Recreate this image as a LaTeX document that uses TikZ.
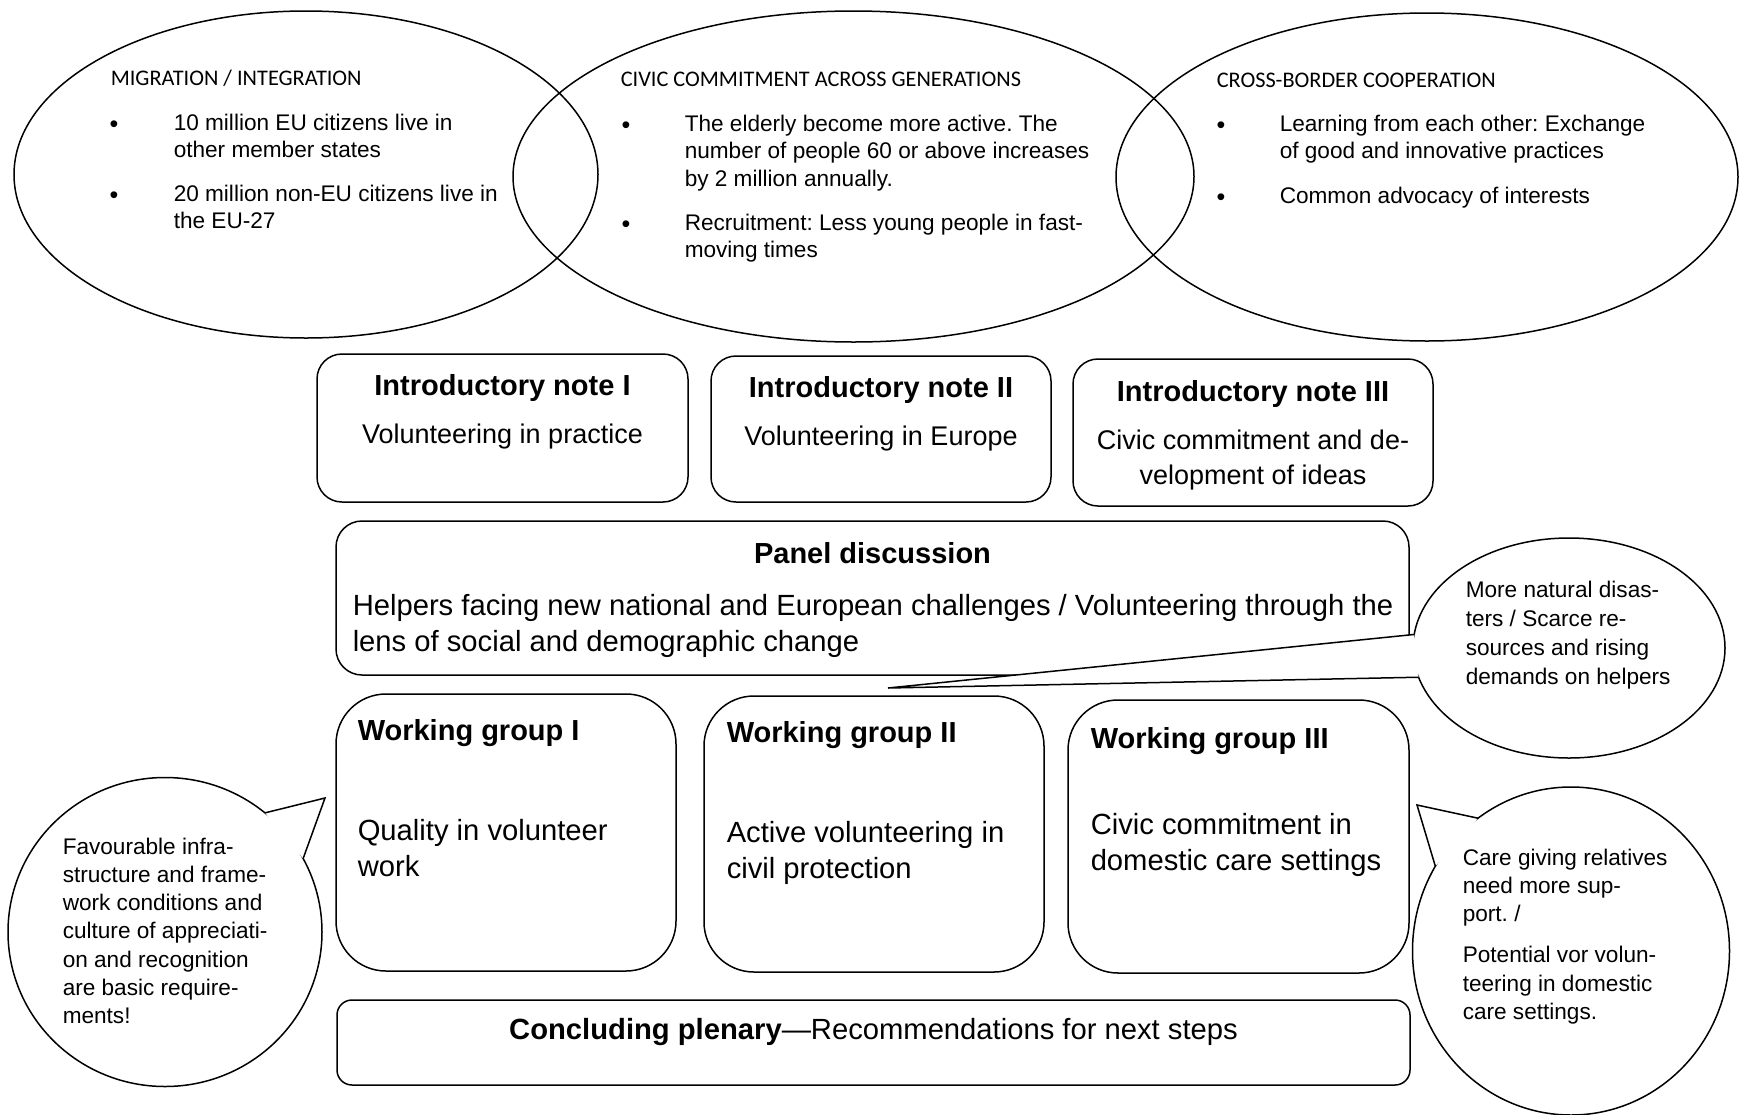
\documentclass[tikz,border=0pt]{standalone}
\usepackage{fontspec}
\setmainfont{Liberation Sans}
\newfontfamily\calfont{Carlito}
\usetikzlibrary{shapes.geometric}
\frenchspacing

\begin{document}
\begin{tikzpicture}[x=1pt, y=-1pt, line width=1.5pt,
  topic/.style={ellipse, draw, inner sep=0pt, outer sep=0pt},
  bubble/.style={ellipse, draw, fill=white, inner sep=0pt, outer sep=0pt},
  notebox/.style={draw, rounded corners=25pt, inner sep=0pt},
  groupbox/.style={draw, rounded corners=50pt, inner sep=0pt, minimum height=275pt},
  hd/.style={anchor=base west, inner sep=0pt, font=\calfont\fontsize{22.3}{26}\selectfont},
  bul/.style={anchor=base, inner sep=0pt, font=\fontsize{25}{27.7}\selectfont},
  itm/.style={anchor=base west, align=left, inner sep=0pt, font=\fontsize{22.6}{27.7}\selectfont},
  ttl/.style={inner sep=0pt, font=\bfseries\fontsize{29}{36}\selectfont},
  txt/.style={inner sep=0pt, font=\fontsize{29.2}{36.8}\selectfont},
  bubtxt/.style={anchor=base west, align=left, inner sep=0pt, font=\fontsize{22.6}{28.3}\selectfont}]
\useasboundingbox (0,0) rectangle (1740,1114);
% topics (a multi-line node sits on its last line):
\node (ellMig) at (306,174.5) [topic, minimum width=584pt, minimum height=327pt] {};
\node (ellCiv) at (853.5,176.5) [topic, minimum width=681pt, minimum height=331pt] {};
\node (ellCro) at (1427,177) [topic, minimum width=622pt, minimum height=328pt] {};
\node (hMig) at (110,85) [hd] {MIGRATION / INTEGRATION};
\node (dMigA) at (114,132) [bul] {\textbullet};
\node (tMigA) at (173,157.7) [itm] {10 million EU citizens live in\\other member states};
\node (dMigB) at (114,203) [bul] {\textbullet};
\node (tMigB) at (173,228.7) [itm] {20 million non-EU citizens live in\\the EU-27};
\node (hCiv) at (620,86) [hd] {CIVIC COMMITMENT ACROSS GENERATIONS};
\node (dCivA) at (626,133) [bul] {\textbullet};
\node (tCivA) at (684,186.4) [itm] {The elderly become more active. The\\number of people 60 or above increases\\by 2 million annually.};
\node (dCivB) at (626,232) [bul] {\textbullet};
\node (tCivB) at (684,257.7) [itm] {Recruitment: Less young people in fast-\\moving times};
\node (hCro) at (1216,87) [hd] {CROSS-BORDER COOPERATION};
\node (dCroA) at (1221,133) [bul] {\textbullet};
\node (tCroA) at (1279,158.7) [itm] {Learning from each other: Exchange\\of good and innovative practices};
\node (dCroB) at (1221,205) [bul] {\textbullet};
\node (tCroB) at (1279,203) [itm] {Common advocacy of interests};
% introductory notes:
\node (noteI) at (502.5,428) [notebox, minimum width=371pt, minimum height=148pt] {};
\node (noteII) at (881,429) [notebox, minimum width=340pt, minimum height=146pt] {};
\node (noteIII) at (1253,432.5) [notebox, minimum width=360pt, minimum height=147pt] {};
\node (ttlI) at (502.5,395) [ttl, anchor=base] {Introductory note I};
\node (ttlII) at (881,397) [ttl, anchor=base] {Introductory note II};
\node (ttlIII) at (1253,401) [ttl, anchor=base] {Introductory note III};
\node (txtI) at (502.5,443) [txt, anchor=base, font=\fontsize{27}{35}\selectfont] {Volunteering in practice};
\node (txtII) at (881,445) [txt, anchor=base, font=\fontsize{27}{35}\selectfont] {Volunteering in Europe};
\node (txtIII) at (1253,484) [txt, anchor=base, align=center, font=\fontsize{27}{35}\selectfont] {Civic commitment and de-\\velopment of ideas};
% panel:
\node (panel) at (872.5,598) [draw, rounded corners=26pt, minimum width=1073pt, minimum height=154pt] {};
\node (ttlPan) at (872.5,563) [ttl, anchor=base] {Panel discussion};
\node (txtPan) at (352,651.8) [txt, anchor=base west, align=left] {Helpers facing new national and European challenges / Volunteering through the\\lens of social and demographic change};
% working groups:
\node (wgI) at (506,832.5) [groupbox, minimum width=340pt, minimum height=277pt] {};
\node (wgII) at (874,834) [groupbox, minimum width=340pt, minimum height=276pt] {};
\node (wgIII) at (1238.5,836.5) [groupbox, minimum width=341pt, minimum height=273pt] {};
\node (ttlWgI) at (357,740) [ttl, anchor=base west] {Working group I};
\node (ttlWgII) at (726,742) [ttl, anchor=base west] {Working group II};
\node (ttlWgIII) at (1090,748) [ttl, anchor=base west] {Working group III};
\node (txtWgI) at (357,876.8) [txt, anchor=base west, align=left] {Quality in volunteer\\work};
\node (txtWgII) at (726,878.8) [txt, anchor=base west, align=left] {Active volunteering in\\civil protection};
\node (txtWgIII) at (1090,870.8) [txt, anchor=base west, align=left] {Civic commitment in\\domestic care settings};
% concluding plenary:
\node (concl) at (873.5,1042.5) [draw, rounded corners=15pt, minimum width=1073pt, minimum height=85pt] {};
\node (txtConcl) at (873.5,1039) [txt, anchor=base] {\textbf{Concluding plenary}—Recommendations for next steps};
% speech bubbles:
\node (bubL) at (165,932) [bubble, minimum width=314pt, minimum height=309pt] {};
\node (bubP) at (1569,648) [bubble, minimum width=312pt, minimum height=220pt] {};
\node (bubC) at (1571,951) [bubble, minimum width=317pt, minimum height=328pt] {};
\coordinate (tipL) at (325,798);
\coordinate (tipP) at (888,688);
\coordinate (tipC) at (1417,805);
\fill[white] (bubL.50.5) -- (tipL) -- (bubL.28.7) -- cycle;
\draw (bubL.50.5) -- (tipL) -- (bubL.28.7);
\fill[white] (bubP.175.6) -- (tipP) -- (bubP.191.2) -- cycle;
\draw (bubP.175.6) -- (tipP) -- (bubP.191.2);
\fill[white] (bubC.125.7) -- (tipC) -- (bubC.148) -- cycle;
\draw (bubC.125.7) -- (tipC) -- (bubC.148);
\node (txtL) at (62,1023.8) [bubtxt] {Favourable infra-\\structure and frame-\\work conditions and\\culture of appreciati-\\on and recognition\\are basic require-\\ments!};
\node (txtP) at (1465,684) [bubtxt, font=\fontsize{22.6}{29}\selectfont] {More natural disas-\\ters / Scarce re-\\sources and rising\\demands on helpers};
\node (txtC) at (1462,1019.5) [bubtxt] {Care giving relatives\\need more sup-\\port. /\\[13pt]Potential vor volun-\\teering in domestic\\care settings.};
\end{tikzpicture}
\end{document}
